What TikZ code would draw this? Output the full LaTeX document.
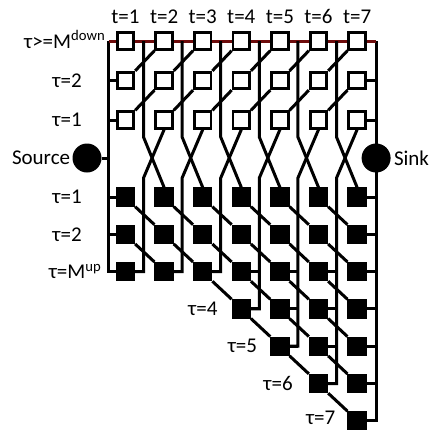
\documentclass[tikz,border=0pt]{standalone}
\usepackage{fontspec}
\setmainfont{Carlito}
\usetikzlibrary{positioning,calc,backgrounds}
\definecolor{cTop}{HTML}{6E0B0B}
\tikzset{
  wire/.style={line width=3pt,line join=miter},
  hst/.style={draw,line width=2.8pt,fill=white,minimum size=16.5pt,inner sep=0pt},
  fst/.style={hst,fill=black},
  term/.style={circle,fill=black,minimum size=29pt,inner sep=0pt},
  lbl/.style={font=\fontsize{21}{24}\selectfont,inner sep=0pt},
}

\begin{document}
\begin{tikzpicture}[x=1pt,y=-1pt]
  \useasboundingbox (0,0) rectangle (433,429);
  % off states (hollow) and on states (filled)
  \foreach \t in {1,...,7}{
    \pgfmathsetmacro\cx{125.5+38.6*(\t-1)}
    \node[hst] (h\t-3) at (\cx,41) {};
    \node[hst] (h\t-2) at (\cx,80.5) {};
    \node[hst] (h\t-1) at (\cx,120) {};
    \node[lbl,above=8pt of h\t-3] (t\t) {t=\t};
    \foreach \r in {1,...,7}{
      \pgfmathsetmacro\cy{197+37.3*(\r-1)}
      \pgfmathtruncatemacro\ok{(\r<4)||(\r<=\t)}
      \ifnum\ok=1 \node[fst] (f\t-\r) at (\cx,\cy) {};\fi
    }
  }
  \coordinate (lt) at ([xshift=-17pt]h1-3.center);
  \coordinate (lb) at ([xshift=-17pt]f1-3.center);
  \coordinate (rt) at ([xshift=19pt]h7-3.center);
  \coordinate (rb) at ([xshift=19pt]f7-7.center);
  \node[term] (src) at (87,158) {};
  \node[term] (snk) at (rt |- src) {};
  \node[lbl,left=2pt of src] (lsrc) {Source};
  \node[lbl,right=3pt of snk] (lsnk) {Sink};
  % row labels
  \node[lbl,anchor=base east] (lh3) at ([xshift=-3pt,yshift=-7pt]lt) {τ>=M\textsuperscript{down}};
  \node[lbl,left=34pt of h1-2] (lh2) {τ=2};
  \node[lbl,left=34pt of h1-1] (lh1) {τ=1};
  \node[lbl,left=34pt of f1-1] (lf1) {τ=1};
  \node[lbl,left=34pt of f1-2] (lf2) {τ=2};
  \node[lbl,anchor=base east] (lf3) at ([xshift=-7pt,yshift=-7pt]lb) {τ=M\textsuperscript{up}};
  \foreach \r/\d in {4/14pt,5/13pt,6/16pt}
    \node[lbl,left=\d of f\r-\r] (lf\r) {τ=\r};
  \node[lbl,left=12pt of f7-7,yshift=3pt] (lf7) {τ=7};
  \begin{scope}[on background layer]
    \draw[wire] (lt) -- (lb) -- (f1-3.west);
    \draw[wire] (rt) -- (rb) -- (f7-7.east);
    \draw[wire,cTop] (lt) -- (rt);
    \draw[wire] (src) -- (src -| lt);
    \foreach \k in {1,2}{
      \draw[wire] (h1-\k.west) -- (h1-\k.west -| lt);
      \draw[wire] (h7-\k.east) -- (h7-\k.east -| rt);
    }
    \foreach \r in {1,2}
      \draw[wire] (f1-\r.west) -- (f1-\r.west -| lt);
    \foreach \r in {1,...,6}
      \draw[wire] (f7-\r.east) -- (f7-\r.east -| rt);
    % transitions t -> t+1
    \foreach \t in {1,...,6}{
      \pgfmathtruncatemacro\n{\t+1}
      \pgfmathtruncatemacro\m{max(3,\t)}
      \coordinate (v\t) at ([xshift=18pt]h\t-3.center);
      \draw[wire] (v\t) -- ([yshift=-96pt]v\t) -- (f\n-1.north);
      \draw[wire] (h\n-1.south) -- ([yshift=-137pt]v\t) -- (v\t |- f\t-\m) -- (f\t-\m.east);
      \foreach \r in {3,...,\m}
        \draw[wire] (f\t-\r.east) -- (f\t-\r.east -| v\t);
      \draw[wire] (h\t-1.north east) -- (h\n-2.south west);
      \draw[wire] (h\t-2.north east) -- (h\n-3.south west);
      \foreach \r in {1,...,6}{
        \pgfmathtruncatemacro\s{\r+1}
        \pgfmathtruncatemacro\ok{(\r<3)||(\r<=\t)}
        \ifnum\ok=1 \draw[wire] (f\t-\r.south east) -- (f\n-\s.north west);\fi
      }
    }
  \end{scope}
\end{tikzpicture}
\end{document}
